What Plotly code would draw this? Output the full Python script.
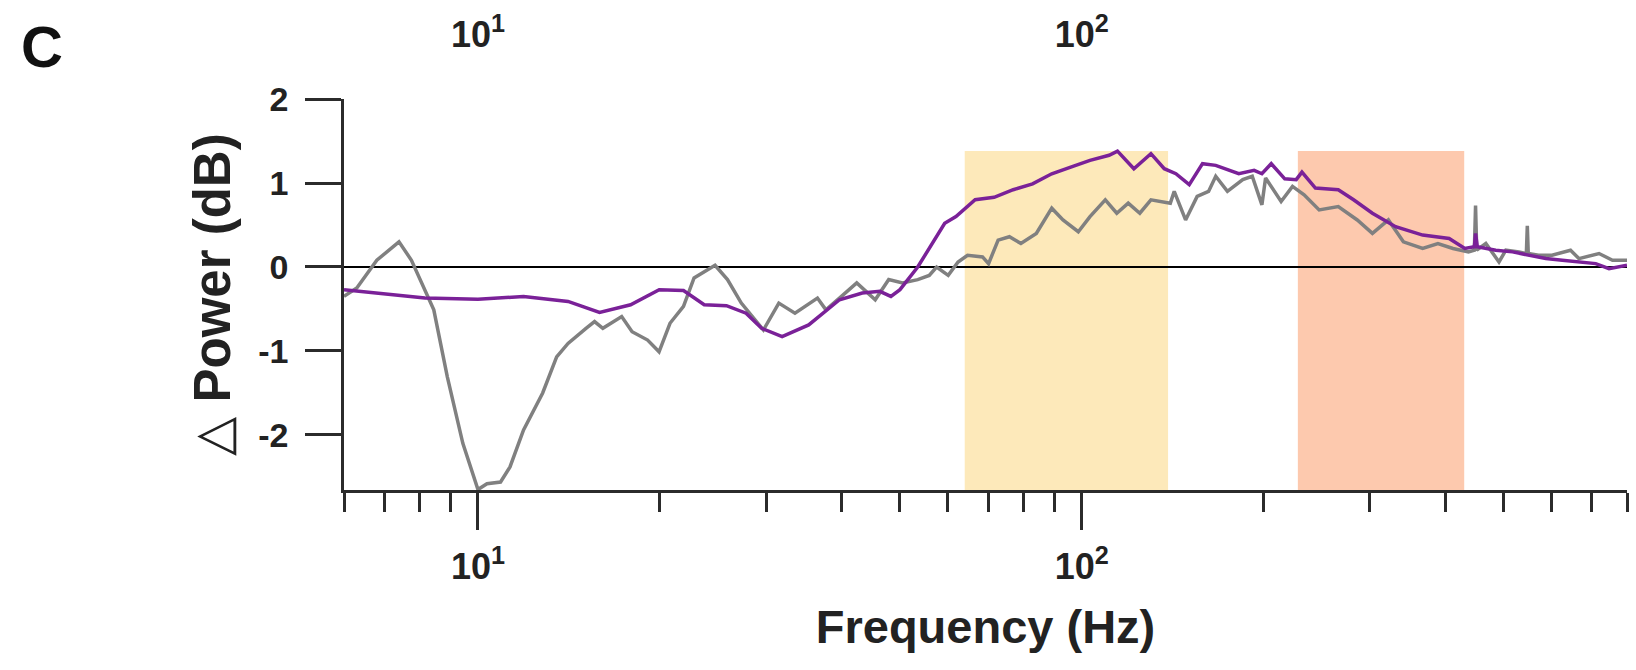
import math
import plotly.graph_objects as go

# ---------------- data ----------------
freq_gray = [6.0, 6.3, 6.8, 7.4, 7.76, 8.45, 8.9, 9.44, 10.0, 10.35, 10.9, 11.3, 11.9,
             12.8, 13.5, 14.1, 15.1, 15.6, 16.1, 17.3, 18.0, 19.1, 19.95, 20.8, 21.9,
             22.8, 24.7, 25.9, 27.3, 29.7, 31.5, 33.5, 36.5, 37.7, 40.0, 42.4, 45.5,
             47.9, 50.5, 53.5, 55.9, 57.5, 60.1, 62.4, 64.7, 68.5, 70.1, 72.7, 75.9,
             79.3, 84.1, 89.2, 93.1, 98.7, 103.2, 109.4, 114.3, 119.4, 124.8, 130.2,
             140.2, 142.3, 148.6, 155.3, 162.2, 166.7, 174.3, 184.8, 191.6, 198.8,
             201.6, 213.9, 223.4, 233.5, 247.3, 266, 286, 303, 322, 341, 367, 389,
             412, 437, 447, 449, 451, 467, 491, 504, 530, 545, 547, 549, 571, 601,
             645, 666, 719, 757, 800]
power_gray = [-0.35, -0.25, 0.08, 0.30, 0.08, -0.51, -1.31, -2.10, -2.65, -2.58, -2.56,
              -2.38, -1.94, -1.50, -1.07, -0.91, -0.73, -0.65, -0.73, -0.59, -0.77,
              -0.87, -1.01, -0.67, -0.47, -0.13, 0.02, -0.15, -0.43, -0.75, -0.43,
              -0.55, -0.37, -0.51, -0.35, -0.19, -0.39, -0.15, -0.19, -0.15, -0.10,
              0.0, -0.10, 0.06, 0.14, 0.12, 0.04, 0.32, 0.36, 0.28, 0.40, 0.70, 0.56,
              0.42, 0.60, 0.80, 0.64, 0.76, 0.64, 0.80, 0.76, 0.90, 0.56, 0.84, 0.90,
              1.08, 0.90, 1.04, 1.08, 0.74, 1.06, 0.78, 0.96, 0.86, 0.68, 0.72, 0.56,
              0.40, 0.56, 0.30, 0.22, 0.28, 0.22, 0.18, 0.20, 0.73, 0.20, 0.28, 0.06,
              0.20, 0.18, 0.16, 0.49, 0.16, 0.14, 0.14, 0.20, 0.10, 0.16, 0.08, 0.08]

freq_purple = [6.0, 8.17, 10.0, 11.9, 14.1, 15.9, 17.9, 19.96, 21.9, 23.7, 25.8, 27.8,
               29.5, 31.9, 35.3, 39.7, 43.3, 46.3, 48.3, 50.0, 53.5, 59.3, 61.9, 66.6,
               71.6, 77.0, 82.9, 89.2, 95.9, 103.2, 111.0, 114.6, 122.0, 130.2, 137.0,
               143.2, 150.7, 158.5, 166.7, 182, 193, 198.8, 206, 216.9, 226.6, 231.6,
               243.8, 266, 282, 303, 331, 367, 406, 431, 447, 449, 452, 485, 517, 551,
               587, 625, 666, 710, 747, 800]
power_purple = [-0.27, -0.37, -0.385, -0.35, -0.41, -0.54, -0.45, -0.27, -0.28, -0.45,
                -0.46, -0.55, -0.73, -0.83, -0.69, -0.39, -0.31, -0.29, -0.35, -0.27,
                0.0, 0.52, 0.60, 0.80, 0.83, 0.92, 0.99, 1.11, 1.19, 1.27, 1.33, 1.38,
                1.17, 1.35, 1.17, 1.11, 0.98, 1.23, 1.21, 1.11, 1.15, 1.11, 1.23, 1.05,
                1.04, 1.13, 0.94, 0.92, 0.80, 0.64, 0.48, 0.38, 0.34, 0.22, 0.24, 0.40,
                0.24, 0.20, 0.18, 0.14, 0.10, 0.08, 0.06, 0.04, -0.02, 0.02]

band_low = [64, 228]
band_high = [139, 430]
band_top = 1.38
band_colors = ["#fde9ba", "#fdc9ae"]

major_ticks = [10, 100]
major_text = ["10<sup>1</sup>", "10<sup>2</sup>"]
minor_ticks = [6, 7, 8, 9, 20, 30, 40, 50, 60, 70, 80, 90, 200, 300, 400, 500, 600, 700, 800]
y_ticks = [-2, -1, 0, 1, 2]
y_ticktext = ["-2", "-1", "0", "1", "2"]
x_range = [6, 800]
y_range = [-2.655, 2.0]

# ---------------- figure ----------------
FONT = "Liberation Sans, Arial, sans-serif"
AXC = "#2b2b2b"
TXT = "#222222"

fig = go.Figure()
fig.add_trace(go.Scatter(x=freq_gray, y=power_gray, mode="lines",
                         line=dict(color="#808080", width=3.5), hoverinfo="skip"))
fig.add_trace(go.Scatter(x=freq_purple, y=power_purple, mode="lines",
                         line=dict(color="#7a2198", width=3.5), hoverinfo="skip"))
# invisible trace so the top axis is drawn
fig.add_trace(go.Scatter(x=x_range, y=[0, 0], xaxis="x2", mode="lines",
                         line=dict(width=0), opacity=0, hoverinfo="skip"))

for lo, hi, c in zip(band_low, band_high, band_colors):
    fig.add_shape(type="rect", xref="x", yref="y", x0=lo, x1=hi, y0=y_range[0], y1=band_top,
                  fillcolor=c, line=dict(width=0), layer="below")

lr = [math.log10(x_range[0]), math.log10(x_range[1])]

xtickfont = dict(family=FONT, size=36, color=TXT, weight="bold")
ytickfont = dict(family=FONT, size=34, color=TXT, weight="bold")
titlefont = dict(family=FONT, size=47, color=TXT, weight="bold")
ytitlefont = dict(family=FONT, size=51, color=TXT, weight="bold")

fig.update_layout(
    width=1636, height=670,
    margin=dict(l=344, r=9, t=99, b=180),
    paper_bgcolor="white", plot_bgcolor="white",
    showlegend=False,
    xaxis=dict(type="log", range=lr, showgrid=False, zeroline=False,
               showline=True, linecolor=AXC, linewidth=2.5,
               tickmode="array", tickvals=major_ticks, ticktext=major_text,
               ticks="outside", ticklen=37, tickwidth=2.5, tickcolor=AXC,
               ticklabelstandoff=6, tickfont=xtickfont,
               minor=dict(tickmode="array", tickvals=minor_ticks, ticks="outside",
                          ticklen=19, tickwidth=2.5, tickcolor=AXC, showgrid=False),
               title=dict(text="Frequency (Hz)", font=titlefont, standoff=25)),
    xaxis2=dict(type="log", range=lr, overlaying="x", side="top", anchor="y",
                showgrid=False, zeroline=False, showline=False, ticks="",
                tickmode="array", tickvals=major_ticks, ticktext=major_text,
                ticklabelstandoff=44, tickfont=xtickfont),
    yaxis=dict(range=y_range, showgrid=False,
               zeroline=True, zerolinecolor="#000000", zerolinewidth=2,
               showline=True, linecolor=AXC, linewidth=2.5,
               tickmode="array", tickvals=y_ticks, ticktext=y_ticktext,
               ticks="outside", ticklen=36, tickwidth=2.5, tickcolor=AXC,
               ticklabelstandoff=10, tickfont=ytickfont,
               title=dict(text="<span style='font-weight:normal'>\u25b3</span> Power (dB)",
                          font=ytitlefont, standoff=12)),
)

fig.add_annotation(text="C", xref="paper", yref="paper",
                   x=(42 - 344) / 1283, y=(490 - 46) / 391,
                   xanchor="center", yanchor="middle", showarrow=False,
                   font=dict(family=FONT, size=58, color="#111111", weight="bold"))

fig.write_html("out.html")
